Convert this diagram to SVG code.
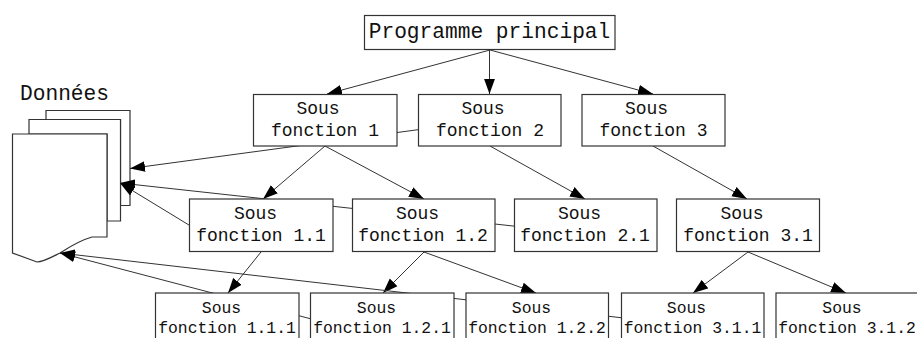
<svg xmlns="http://www.w3.org/2000/svg" width="917" height="338" viewBox="0 0 917 338">
<style>
.b{fill:#fff;stroke:#333;stroke-width:1.2}
.c line{stroke:#333;stroke-width:1;fill:none}
.a{marker-end:url(#h)}
text{font-family:"Liberation Mono","Courier New",monospace;fill:#111;text-anchor:middle}
.t1{font-size:21.2px}
.t2{font-size:18px}
.t3{font-size:16.4px}
</style>
<defs>
<marker id="h" markerUnits="userSpaceOnUse" markerWidth="16" markerHeight="12" viewBox="0 0 16 12" refX="15" refY="6" orient="auto">
<path d="M0 0.6L15 6L0 11.4z" fill="#000"/>
</marker>
</defs>
<rect width="917" height="338" fill="#fff"/>
<g id="donnees">
<path class="b" d="M46 119.5V110.5H130V205.5H120.5V119.5z"/>
<path class="b" d="M29 134V119.5H120.5V221H107V134z"/>
<path class="b" d="M12.5 134H107V237H92C78 241 68 248 60 253C50 258 43 262 37 262L12.5 253z"/>
<text class="t1" x="64.5" y="100">Données</text>
</g>
<g id="connectors" class="c">
<line class="a" x1="490" y1="50" x2="327" y2="94"/>
<line class="a" x1="489.5" y1="50" x2="489.5" y2="94"/>
<line class="a" x1="490" y1="50" x2="653" y2="94"/>
<line class="a" x1="325" y1="146" x2="263" y2="199"/>
<line class="a" x1="325" y1="146" x2="424" y2="199"/>
<line class="a" x1="490" y1="146" x2="585" y2="199"/>
<line class="a" x1="653" y1="146" x2="747" y2="199"/>
<line class="a" x1="261" y1="252" x2="228" y2="293"/>
<line class="a" x1="424" y1="252" x2="383" y2="293"/>
<line class="a" x1="424" y1="252" x2="536" y2="293"/>
<line class="a" x1="748" y1="252" x2="693" y2="293"/>
<line class="a" x1="748" y1="252" x2="846" y2="293"/>
<line class="a" x1="490" y1="120" x2="130" y2="168.5"/>
<line class="a" x1="586" y1="234" x2="120" y2="183"/>
<line class="a" x1="225" y1="247" x2="120" y2="183"/>
<line class="a" x1="380" y1="337" x2="60" y2="253"/>
<line class="a" x1="693" y1="326" x2="60" y2="253"/>
</g>
<g id="programme"><rect class="b" x="364.5" y="15.5" width="250.5" height="34"/><text class="t1" x="489.5" y="38">Programme principal</text></g>
<g id="f1"><rect class="b" x="253.5" y="94.5" width="143.5" height="51.5"/><text class="t2" x="318" y="114">Sous</text><text class="t2" x="325" y="136">fonction 1</text></g>
<g id="f2"><rect class="b" x="418.5" y="94.5" width="142.5" height="51.5"/><text class="t2" x="483" y="114">Sous</text><text class="t2" x="490" y="136">fonction 2</text></g>
<g id="f3"><rect class="b" x="582" y="94.5" width="143" height="51.5"/><text class="t2" x="646.5" y="114">Sous</text><text class="t2" x="653.5" y="136">fonction 3</text></g>
<g id="f11"><rect class="b" x="189.5" y="199" width="143.5" height="52.5"/><text class="t2" x="255.5" y="219">Sous</text><text class="t2" x="261" y="241">fonction 1.1</text></g>
<g id="f12"><rect class="b" x="352.5" y="199" width="142.5" height="52.5"/><text class="t2" x="417.5" y="219">Sous</text><text class="t2" x="423" y="241">fonction 1.2</text></g>
<g id="f21"><rect class="b" x="514.5" y="199" width="142.5" height="52.5"/><text class="t2" x="579.5" y="219">Sous</text><text class="t2" x="585" y="241">fonction 2.1</text></g>
<g id="f31"><rect class="b" x="676.5" y="199" width="143" height="52.5"/><text class="t2" x="742" y="219">Sous</text><text class="t2" x="748" y="241">fonction 3.1</text></g>
<g id="f111"><rect class="b" x="155.5" y="293" width="143.5" height="60"/><text class="t3" x="221.5" y="313">Sous</text><text class="t3" x="227" y="333">fonction 1.1.1</text></g>
<g id="f121"><rect class="b" x="310.5" y="293" width="143.5" height="60"/><text class="t3" x="376.5" y="313">Sous</text><text class="t3" x="382" y="333">fonction 1.2.1</text></g>
<g id="f122"><rect class="b" x="466" y="293" width="142.5" height="60"/><text class="t3" x="531.5" y="313">Sous</text><text class="t3" x="537" y="333">fonction 1.2.2</text></g>
<g id="f311"><rect class="b" x="621.5" y="293" width="142.5" height="60"/><text class="t3" x="686.5" y="313">Sous</text><text class="t3" x="692.5" y="333">fonction 3.1.1</text></g>
<g id="f312"><rect class="b" x="776" y="293" width="160" height="60"/><text class="t3" x="842" y="313">Sous</text><text class="t3" x="847" y="333">fonction 3.1.2</text></g>
</svg>
